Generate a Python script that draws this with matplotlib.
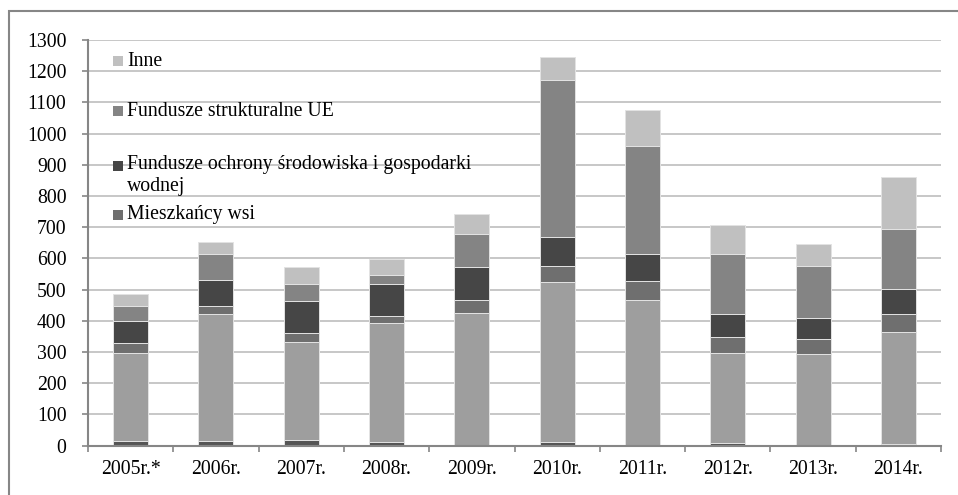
import matplotlib
matplotlib.use("Agg")
import matplotlib.pyplot as plt
from matplotlib.patches import Rectangle
import numpy as np

plt.rcParams['font.family'] = ['Liberation Serif', 'DejaVu Serif']

years = ['2005r.*', '2006r.', '2007r.', '2008r.', '2009r.', '2010r.', '2011r.', '2012r.', '2013r.', '2014r.']

# segments from the bottom up
bottom_part = [16, 15, 19, 11, 2, 12, 3, 10, 2, 6]
main_part = [282, 406, 314, 383, 424, 514, 464, 287, 292, 358]
mieszkancy = [31, 27, 28, 22, 41, 50, 60, 51, 47, 58]
fundusze_ochrony = [71, 83, 103, 101, 106, 94, 88, 75, 69, 80]
fundusze_ue = [49, 84, 55, 31, 104, 502, 345, 192, 167, 193]
inne = [36, 39, 54, 50, 64, 74, 115, 91, 70, 166]

series = [bottom_part, main_part, mieszkancy, fundusze_ochrony, fundusze_ue, inne]
colors = ['#555555', '#9e9e9e', '#6f6f6f', '#464646', '#848484', '#c0c0c0']

legend_labels = ['Inne', 'Fundusze strukturalne UE',
                 'Fundusze ochrony środowiska i gospodarki\nwodnej', 'Mieszkańcy wsi']
legend_colors = ['#c0c0c0', '#848484', '#464646', '#6f6f6f']

W, H = 958, 495
fs = 14.2
fig = plt.figure(figsize=(W / 100, H / 100), dpi=100)
ax = fig.add_axes([88 / W, 1 - 445.7 / H, (941 - 88) / W, (445.7 - 40) / H])

x = np.arange(len(years))
base = np.zeros(len(years))
for vals, c in zip(series, colors):
    ax.bar(x, vals, width=0.41, bottom=base, color=c, edgecolor='#e3e3e3', linewidth=0.7, zorder=3)
    base += np.array(vals)

ax.set_xlim(-0.5, len(years) - 0.5)
ax.set_ylim(0, 1300)
ax.set_yticks(range(0, 1301, 100))
ax.grid(axis='y', color='#bdbdbd', linewidth=1.2, zorder=0)

# x ticks at the category borders, labels under the bars
ax.set_xticks(np.arange(-0.5, len(years), 1))
ax.set_xticklabels([])
ax.set_xticks(x, minor=True)
ax.set_xticklabels(years, minor=True)
ax.tick_params(axis='x', which='major', length=4, width=1.2, color='#868686', direction='out')
ax.tick_params(axis='x', which='minor', length=0, pad=10, labelsize=fs)
ax.tick_params(axis='y', length=4.5, width=1.2, color='#868686', pad=11, labelsize=fs)

for s in ['top', 'right']:
    ax.spines[s].set_visible(False)
for s in ['left', 'bottom']:
    ax.spines[s].set_color('#868686')
    ax.spines[s].set_linewidth(1.5)
    ax.spines[s].set_zorder(4)

# legend drawn by hand, as in the source chart
leg_y = [61, 111, 166, 215]
for lab, c, yy in zip(legend_labels, legend_colors, leg_y):
    fig.patches.append(Rectangle((113 / W, 1 - (yy + 5) / H), 10 / W, 10 / H,
                                 transform=fig.transFigure, facecolor=c, edgecolor='none'))
    if '\n' in lab:
        fig.text(127 / W, 1 - (yy - 11) / H, lab, fontsize=fs, va='top', ha='left', linespacing=1.25)
    else:
        fig.text(127 / W, 1 - yy / H, lab, fontsize=fs, va='center', ha='left')

# outer chart frame
fig.patches.append(Rectangle((9 / W, -0.1), 1.2, 1 - 11 / H + 0.1, transform=fig.transFigure,
                             facecolor='none', edgecolor='#868686', linewidth=1.5))

fig.savefig('out.png', dpi=100)
